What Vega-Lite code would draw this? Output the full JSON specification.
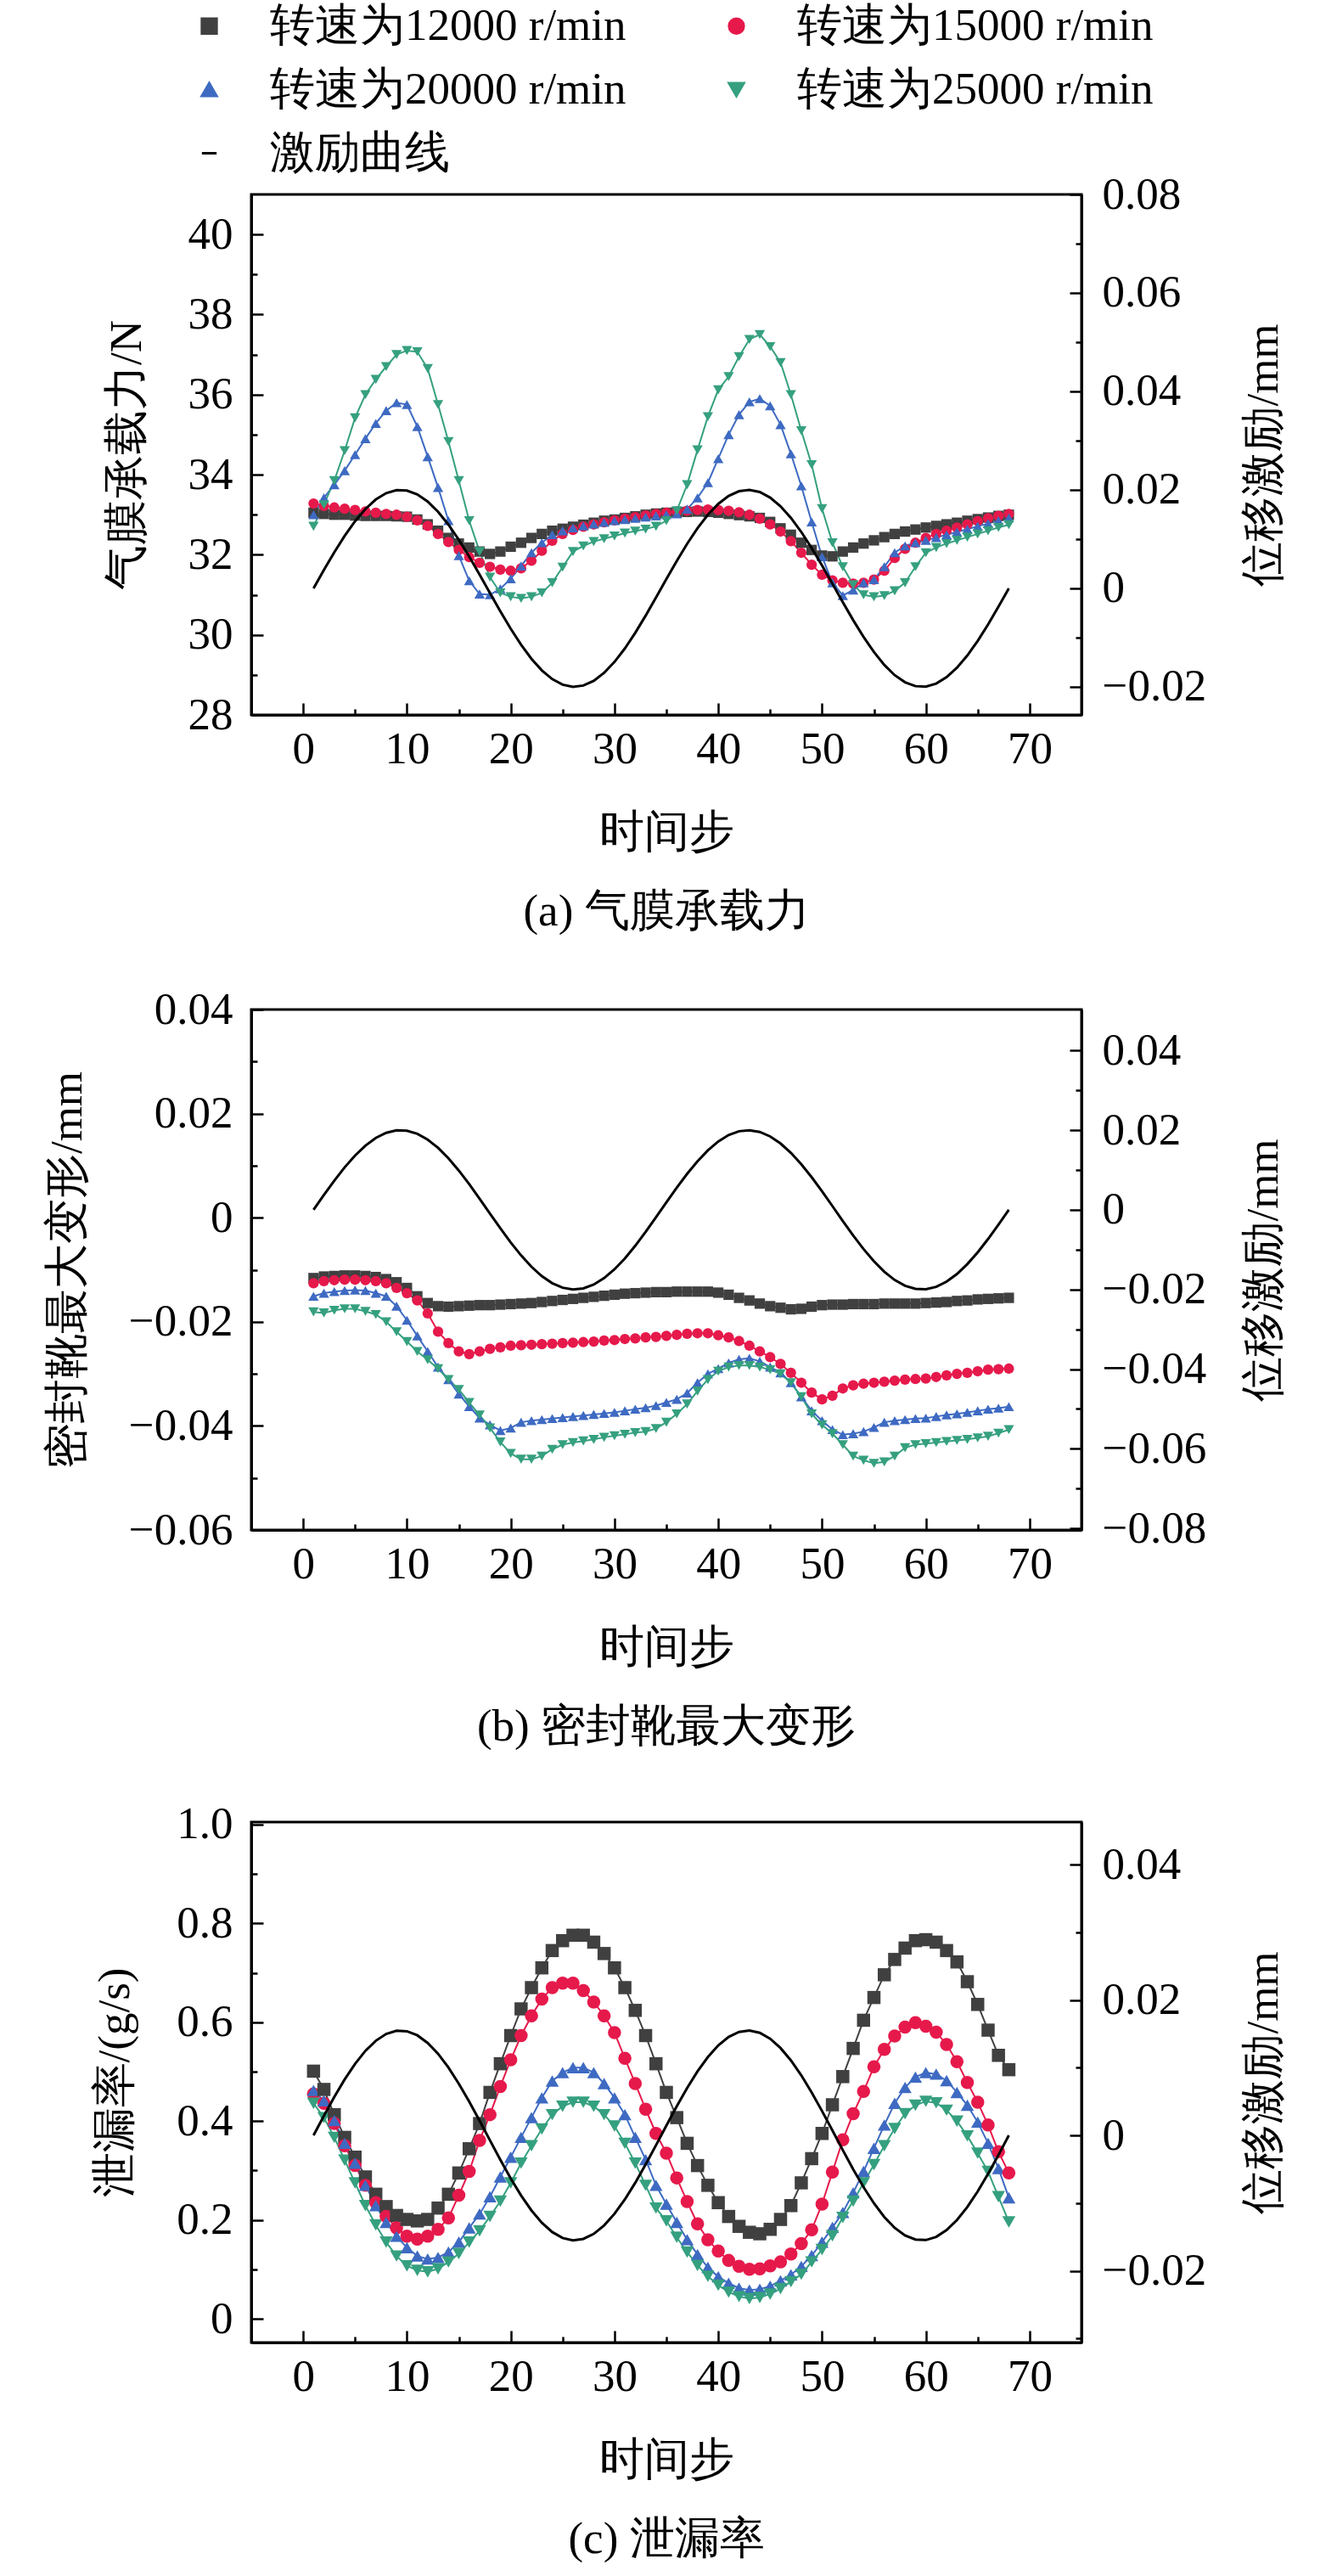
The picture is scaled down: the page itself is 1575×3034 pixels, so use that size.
{
  "$schema": "https://vega.github.io/schema/vega-lite/v6.json",
  "background": "white",
  "padding": {"left": 51, "top": 4, "right": 0, "bottom": 0},
  "spacing": 58,
  "config": {
    "font": "Liberation Serif",
    "view": {"stroke": "black", "strokeWidth": 3},
    "axis": {
      "labelFontSize": 53,
      "titleFontSize": 53,
      "titleFontWeight": "normal",
      "labelColor": "black",
      "titleColor": "black",
      "domainColor": "black",
      "domainWidth": 3,
      "tickColor": "black",
      "tickWidth": 2.5,
      "tickSize": -14,
      "grid": false,
      "labelFlush": false,
      "labelOverlap": false
    },
    "title": {"fontSize": 53, "fontWeight": "normal", "color": "black", "orient": "bottom", "offset": 41}
  },
  "datasets": {
    "p1": [
      {"t":1,"a":33.05,"b":33.28,"c":33.0,"d":32.71,"e":0},
      {"t":2,"a":33.02,"b":33.22,"c":33.42,"d":33.25,"e":0.00373},
      {"t":3,"a":33.0,"b":33.18,"c":33.75,"d":33.85,"e":0.00733},
      {"t":4,"a":33.0,"b":33.15,"c":34.1,"d":34.6,"e":0.01067},
      {"t":5,"a":32.98,"b":33.12,"c":34.5,"d":35.42,"e":0.01363},
      {"t":6,"a":32.97,"b":33.08,"c":34.9,"d":36.0,"e":0.01612},
      {"t":7,"a":32.97,"b":33.05,"c":35.28,"d":36.38,"e":0.01805},
      {"t":8,"a":32.97,"b":33.02,"c":35.6,"d":36.7,"e":0.01934},
      {"t":9,"a":32.96,"b":33.0,"c":35.8,"d":37.0,"e":0.01995},
      {"t":10,"a":32.95,"b":32.95,"c":35.75,"d":37.1,"e":0.01986},
      {"t":11,"a":32.88,"b":32.86,"c":35.2,"d":37.07,"e":0.01908},
      {"t":12,"a":32.76,"b":32.72,"c":34.45,"d":36.65,"e":0.01763},
      {"t":13,"a":32.6,"b":32.52,"c":33.68,"d":35.75,"e":0.01556},
      {"t":14,"a":32.42,"b":32.32,"c":32.85,"d":34.83,"e":0.01293},
      {"t":15,"a":32.28,"b":32.12,"c":31.98,"d":33.85,"e":0.00986},
      {"t":16,"a":32.18,"b":31.94,"c":31.35,"d":32.85,"e":0.00645},
      {"t":17,"a":32.08,"b":31.8,"c":31.02,"d":32.08,"e":0.0028},
      {"t":18,"a":32.02,"b":31.7,"c":31.0,"d":31.44,"e":-0.00094},
      {"t":19,"a":32.08,"b":31.63,"c":31.15,"d":31.05,"e":-0.00465},
      {"t":20,"a":32.2,"b":31.6,"c":31.4,"d":30.95,"e":-0.00819},
      {"t":21,"a":32.3,"b":31.66,"c":31.72,"d":30.91,"e":-0.01145},
      {"t":22,"a":32.42,"b":31.85,"c":32.05,"d":30.95,"e":-0.01431},
      {"t":23,"a":32.52,"b":32.1,"c":32.3,"d":31.05,"e":-0.01666},
      {"t":24,"a":32.6,"b":32.35,"c":32.5,"d":31.3,"e":-0.01843},
      {"t":25,"a":32.65,"b":32.52,"c":32.6,"d":31.69,"e":-0.01956},
      {"t":26,"a":32.7,"b":32.62,"c":32.67,"d":32.08,"e":-0.01999},
      {"t":27,"a":32.75,"b":32.7,"c":32.72,"d":32.22,"e":-0.01973},
      {"t":28,"a":32.8,"b":32.76,"c":32.77,"d":32.33,"e":-0.01878},
      {"t":29,"a":32.85,"b":32.81,"c":32.81,"d":32.4,"e":-0.01716},
      {"t":30,"a":32.88,"b":32.86,"c":32.85,"d":32.47,"e":-0.01494},
      {"t":31,"a":32.92,"b":32.9,"c":32.88,"d":32.54,"e":-0.01221},
      {"t":32,"a":32.96,"b":32.94,"c":32.91,"d":32.59,"e":-0.00904},
      {"t":33,"a":33.0,"b":32.98,"c":32.94,"d":32.64,"e":-0.00555},
      {"t":34,"a":33.03,"b":33.02,"c":32.97,"d":32.71,"e":-0.00187},
      {"t":35,"a":33.05,"b":33.05,"c":33.0,"d":32.85,"e":0.00187},
      {"t":36,"a":33.06,"b":33.08,"c":33.02,"d":33.1,"e":0.00555},
      {"t":37,"a":33.07,"b":33.1,"c":33.14,"d":33.75,"e":0.00904},
      {"t":38,"a":33.08,"b":33.12,"c":33.42,"d":34.62,"e":0.0122},
      {"t":39,"a":33.07,"b":33.13,"c":33.8,"d":35.45,"e":0.01494},
      {"t":40,"a":33.05,"b":33.12,"c":34.4,"d":36.12,"e":0.01716},
      {"t":41,"a":33.02,"b":33.1,"c":35.0,"d":36.45,"e":0.01878},
      {"t":42,"a":32.99,"b":33.06,"c":35.5,"d":36.95,"e":0.01973},
      {"t":43,"a":32.96,"b":33.0,"c":35.82,"d":37.38,"e":0.01999},
      {"t":44,"a":32.92,"b":32.9,"c":35.9,"d":37.5,"e":0.01956},
      {"t":45,"a":32.82,"b":32.76,"c":35.72,"d":37.2,"e":0.01843},
      {"t":46,"a":32.66,"b":32.58,"c":35.25,"d":36.8,"e":0.01666},
      {"t":47,"a":32.5,"b":32.34,"c":34.52,"d":36.0,"e":0.01431},
      {"t":48,"a":32.3,"b":32.05,"c":33.72,"d":35.1,"e":0.01145},
      {"t":49,"a":32.12,"b":31.75,"c":32.82,"d":34.25,"e":0.00819},
      {"t":50,"a":31.98,"b":31.5,"c":31.95,"d":33.15,"e":0.00465},
      {"t":51,"a":31.96,"b":31.36,"c":31.3,"d":32.3,"e":0.00094},
      {"t":52,"a":32.08,"b":31.3,"c":30.98,"d":31.7,"e":-0.0028},
      {"t":53,"a":32.18,"b":31.28,"c":31.12,"d":31.25,"e":-0.00645},
      {"t":54,"a":32.28,"b":31.3,"c":31.3,"d":31.0,"e":-0.00986},
      {"t":55,"a":32.36,"b":31.38,"c":31.38,"d":30.95,"e":-0.01293},
      {"t":56,"a":32.44,"b":31.6,"c":31.7,"d":30.98,"e":-0.01556},
      {"t":57,"a":32.52,"b":31.92,"c":32.05,"d":31.1,"e":-0.01763},
      {"t":58,"a":32.58,"b":32.15,"c":32.22,"d":31.3,"e":-0.01908},
      {"t":59,"a":32.63,"b":32.3,"c":32.3,"d":31.7,"e":-0.01986},
      {"t":60,"a":32.68,"b":32.42,"c":32.36,"d":32.05,"e":-0.01995},
      {"t":61,"a":32.72,"b":32.52,"c":32.43,"d":32.18,"e":-0.01934},
      {"t":62,"a":32.76,"b":32.6,"c":32.5,"d":32.28,"e":-0.01805},
      {"t":63,"a":32.8,"b":32.68,"c":32.57,"d":32.36,"e":-0.01612},
      {"t":64,"a":32.85,"b":32.76,"c":32.64,"d":32.44,"e":-0.01363},
      {"t":65,"a":32.89,"b":32.84,"c":32.71,"d":32.52,"e":-0.01067},
      {"t":66,"a":32.93,"b":32.91,"c":32.78,"d":32.6,"e":-0.00733},
      {"t":67,"a":32.97,"b":32.97,"c":32.85,"d":32.68,"e":-0.00373},
      {"t":68,"a":33.0,"b":33.02,"c":32.92,"d":32.75,"e":0}
    ],
    "p2": [
      {"t":1,"a":-0.0116,"b":-0.0126,"c":-0.0151,"d":-0.0181,"e":0},
      {"t":2,"a":-0.0113,"b":-0.0122,"c":-0.0145,"d":-0.0183,"e":0.00373},
      {"t":3,"a":-0.0112,"b":-0.012,"c":-0.0142,"d":-0.0178,"e":0.00733},
      {"t":4,"a":-0.0111,"b":-0.0119,"c":-0.014,"d":-0.0175,"e":0.01067},
      {"t":5,"a":-0.0111,"b":-0.0119,"c":-0.0139,"d":-0.0175,"e":0.01363},
      {"t":6,"a":-0.0112,"b":-0.012,"c":-0.014,"d":-0.018,"e":0.01612},
      {"t":7,"a":-0.0114,"b":-0.0122,"c":-0.0145,"d":-0.0186,"e":0.01805},
      {"t":8,"a":-0.0118,"b":-0.0126,"c":-0.0151,"d":-0.02,"e":0.01934},
      {"t":9,"a":-0.0124,"b":-0.0135,"c":-0.017,"d":-0.0219,"e":0.01995},
      {"t":10,"a":-0.0135,"b":-0.0145,"c":-0.0197,"d":-0.0238,"e":0.01986},
      {"t":11,"a":-0.0151,"b":-0.0159,"c":-0.0227,"d":-0.0257,"e":0.01908},
      {"t":12,"a":-0.0164,"b":-0.0184,"c":-0.0257,"d":-0.0273,"e":0.01763},
      {"t":13,"a":-0.017,"b":-0.0219,"c":-0.0287,"d":-0.029,"e":0.01556},
      {"t":14,"a":-0.0171,"b":-0.0241,"c":-0.0311,"d":-0.0311,"e":0.01293},
      {"t":15,"a":-0.017,"b":-0.0257,"c":-0.0339,"d":-0.033,"e":0.00986},
      {"t":16,"a":-0.0169,"b":-0.0262,"c":-0.0363,"d":-0.0355,"e":0.00645},
      {"t":17,"a":-0.0168,"b":-0.0257,"c":-0.0385,"d":-0.0379,"e":0.0028},
      {"t":18,"a":-0.0168,"b":-0.0252,"c":-0.0398,"d":-0.0404,"e":-0.00094},
      {"t":19,"a":-0.0167,"b":-0.0249,"c":-0.0409,"d":-0.0431,"e":-0.00465},
      {"t":20,"a":-0.0166,"b":-0.0246,"c":-0.0404,"d":-0.0453,"e":-0.00819},
      {"t":21,"a":-0.0165,"b":-0.0245,"c":-0.0393,"d":-0.0464,"e":-0.01145},
      {"t":22,"a":-0.0164,"b":-0.0244,"c":-0.039,"d":-0.0464,"e":-0.01431},
      {"t":23,"a":-0.0162,"b":-0.0243,"c":-0.0388,"d":-0.0458,"e":-0.01666},
      {"t":24,"a":-0.016,"b":-0.0242,"c":-0.0386,"d":-0.0445,"e":-0.01843},
      {"t":25,"a":-0.0158,"b":-0.0241,"c":-0.0384,"d":-0.0436,"e":-0.01956},
      {"t":26,"a":-0.0156,"b":-0.024,"c":-0.0382,"d":-0.0432,"e":-0.01999},
      {"t":27,"a":-0.0154,"b":-0.0239,"c":-0.038,"d":-0.0429,"e":-0.01973},
      {"t":28,"a":-0.0152,"b":-0.0238,"c":-0.0378,"d":-0.0426,"e":-0.01878},
      {"t":29,"a":-0.015,"b":-0.0236,"c":-0.0376,"d":-0.0422,"e":-0.01716},
      {"t":30,"a":-0.0148,"b":-0.0235,"c":-0.0374,"d":-0.0419,"e":-0.01494},
      {"t":31,"a":-0.0146,"b":-0.0233,"c":-0.0371,"d":-0.0416,"e":-0.01221},
      {"t":32,"a":-0.0145,"b":-0.0232,"c":-0.0368,"d":-0.0413,"e":-0.00904},
      {"t":33,"a":-0.0144,"b":-0.023,"c":-0.0365,"d":-0.0411,"e":-0.00555},
      {"t":34,"a":-0.0143,"b":-0.0229,"c":-0.0361,"d":-0.0405,"e":-0.00187},
      {"t":35,"a":-0.0143,"b":-0.0227,"c":-0.0355,"d":-0.0393,"e":0.00187},
      {"t":36,"a":-0.0142,"b":-0.0225,"c":-0.0349,"d":-0.0377,"e":0.00555},
      {"t":37,"a":-0.0142,"b":-0.0223,"c":-0.0337,"d":-0.0358,"e":0.00904},
      {"t":38,"a":-0.0142,"b":-0.0222,"c":-0.0317,"d":-0.0333,"e":0.0122},
      {"t":39,"a":-0.0142,"b":-0.0222,"c":-0.03,"d":-0.0311,"e":0.01494},
      {"t":40,"a":-0.0144,"b":-0.0226,"c":-0.029,"d":-0.0295,"e":0.01716},
      {"t":41,"a":-0.0148,"b":-0.023,"c":-0.0279,"d":-0.0287,"e":0.01878},
      {"t":42,"a":-0.0154,"b":-0.0237,"c":-0.0272,"d":-0.0284,"e":0.01973},
      {"t":43,"a":-0.0159,"b":-0.0246,"c":-0.027,"d":-0.0284,"e":0.01999},
      {"t":44,"a":-0.0165,"b":-0.0257,"c":-0.0276,"d":-0.0287,"e":0.01956},
      {"t":45,"a":-0.017,"b":-0.0268,"c":-0.0287,"d":-0.0292,"e":0.01843},
      {"t":46,"a":-0.0173,"b":-0.0281,"c":-0.0298,"d":-0.03,"e":0.01666},
      {"t":47,"a":-0.0176,"b":-0.0298,"c":-0.0317,"d":-0.0317,"e":0.01431},
      {"t":48,"a":-0.0175,"b":-0.0317,"c":-0.0344,"d":-0.0344,"e":0.01145},
      {"t":49,"a":-0.0171,"b":-0.0336,"c":-0.0371,"d":-0.0377,"e":0.00819},
      {"t":50,"a":-0.0168,"b":-0.0349,"c":-0.039,"d":-0.0398,"e":0.00465},
      {"t":51,"a":-0.0167,"b":-0.0342,"c":-0.0407,"d":-0.0415,"e":0.00094},
      {"t":52,"a":-0.0167,"b":-0.0328,"c":-0.0417,"d":-0.0436,"e":-0.0028},
      {"t":53,"a":-0.0166,"b":-0.0322,"c":-0.0415,"d":-0.0458,"e":-0.00645},
      {"t":54,"a":-0.0166,"b":-0.0319,"c":-0.0411,"d":-0.0466,"e":-0.00986},
      {"t":55,"a":-0.0166,"b":-0.0317,"c":-0.0403,"d":-0.0472,"e":-0.01293},
      {"t":56,"a":-0.0165,"b":-0.0315,"c":-0.0393,"d":-0.0469,"e":-0.01556},
      {"t":57,"a":-0.0165,"b":-0.0313,"c":-0.039,"d":-0.0458,"e":-0.01763},
      {"t":58,"a":-0.0165,"b":-0.0311,"c":-0.0388,"d":-0.0442,"e":-0.01908},
      {"t":59,"a":-0.0165,"b":-0.031,"c":-0.0386,"d":-0.0436,"e":-0.01986},
      {"t":60,"a":-0.0164,"b":-0.0309,"c":-0.0385,"d":-0.0434,"e":-0.01995},
      {"t":61,"a":-0.0163,"b":-0.0306,"c":-0.0382,"d":-0.0432,"e":-0.01934},
      {"t":62,"a":-0.0162,"b":-0.0303,"c":-0.0379,"d":-0.043,"e":-0.01805},
      {"t":63,"a":-0.016,"b":-0.03,"c":-0.0377,"d":-0.0428,"e":-0.01612},
      {"t":64,"a":-0.0159,"b":-0.0298,"c":-0.0374,"d":-0.0426,"e":-0.01363},
      {"t":65,"a":-0.0157,"b":-0.0295,"c":-0.0371,"d":-0.0423,"e":-0.01067},
      {"t":66,"a":-0.0156,"b":-0.0292,"c":-0.0368,"d":-0.042,"e":-0.00733},
      {"t":67,"a":-0.0155,"b":-0.0291,"c":-0.0366,"d":-0.0414,"e":-0.00373},
      {"t":68,"a":-0.0154,"b":-0.029,"c":-0.0363,"d":-0.0407,"e":0}
    ],
    "p3": [
      {"t":1,"a":0.501,"b":0.455,"c":0.462,"d":0.436,"e":0},
      {"t":2,"a":0.464,"b":0.436,"c":0.441,"d":0.407,"e":0.00289},
      {"t":3,"a":0.413,"b":0.395,"c":0.401,"d":0.367,"e":0.00568},
      {"t":4,"a":0.367,"b":0.35,"c":0.355,"d":0.321,"e":0.00827},
      {"t":5,"a":0.327,"b":0.31,"c":0.315,"d":0.275,"e":0.01057},
      {"t":6,"a":0.287,"b":0.27,"c":0.27,"d":0.229,"e":0.0125},
      {"t":7,"a":0.252,"b":0.235,"c":0.229,"d":0.19,"e":0.01399},
      {"t":8,"a":0.227,"b":0.207,"c":0.195,"d":0.155,"e":0.01499},
      {"t":9,"a":0.209,"b":0.184,"c":0.167,"d":0.127,"e":0.01546},
      {"t":10,"a":0.201,"b":0.167,"c":0.144,"d":0.107,"e":0.01539},
      {"t":11,"a":0.198,"b":0.161,"c":0.127,"d":0.098,"e":0.01479},
      {"t":12,"a":0.201,"b":0.167,"c":0.121,"d":0.095,"e":0.01366},
      {"t":13,"a":0.224,"b":0.181,"c":0.124,"d":0.101,"e":0.01206},
      {"t":14,"a":0.252,"b":0.204,"c":0.135,"d":0.115,"e":0.01002},
      {"t":15,"a":0.295,"b":0.25,"c":0.155,"d":0.132,"e":0.00764},
      {"t":16,"a":0.344,"b":0.298,"c":0.184,"d":0.155,"e":0.005},
      {"t":17,"a":0.395,"b":0.361,"c":0.212,"d":0.178,"e":0.00217},
      {"t":18,"a":0.458,"b":0.413,"c":0.247,"d":0.207,"e":-0.00073},
      {"t":19,"a":0.516,"b":0.47,"c":0.287,"d":0.238,"e":-0.0036},
      {"t":20,"a":0.573,"b":0.524,"c":0.327,"d":0.275,"e":-0.00635},
      {"t":21,"a":0.627,"b":0.573,"c":0.367,"d":0.315,"e":-0.00888},
      {"t":22,"a":0.67,"b":0.613,"c":0.407,"d":0.35,"e":-0.01109},
      {"t":23,"a":0.71,"b":0.647,"c":0.447,"d":0.384,"e":-0.01291},
      {"t":24,"a":0.745,"b":0.67,"c":0.481,"d":0.413,"e":-0.01428},
      {"t":25,"a":0.765,"b":0.679,"c":0.498,"d":0.43,"e":-0.01516},
      {"t":26,"a":0.776,"b":0.679,"c":0.508,"d":0.438,"e":-0.0155},
      {"t":27,"a":0.776,"b":0.664,"c":0.508,"d":0.438,"e":-0.01529},
      {"t":28,"a":0.762,"b":0.641,"c":0.498,"d":0.43,"e":-0.01455},
      {"t":29,"a":0.739,"b":0.613,"c":0.476,"d":0.413,"e":-0.0133},
      {"t":30,"a":0.71,"b":0.579,"c":0.447,"d":0.39,"e":-0.01158},
      {"t":31,"a":0.67,"b":0.527,"c":0.413,"d":0.355,"e":-0.00946},
      {"t":32,"a":0.624,"b":0.476,"c":0.367,"d":0.315,"e":-0.007},
      {"t":33,"a":0.573,"b":0.424,"c":0.322,"d":0.27,"e":-0.0043},
      {"t":34,"a":0.516,"b":0.375,"c":0.27,"d":0.224,"e":-0.00145},
      {"t":35,"a":0.458,"b":0.335,"c":0.232,"d":0.198,"e":0.00145},
      {"t":36,"a":0.407,"b":0.285,"c":0.195,"d":0.165,"e":0.0043},
      {"t":37,"a":0.355,"b":0.237,"c":0.16,"d":0.135,"e":0.007},
      {"t":38,"a":0.31,"b":0.192,"c":0.13,"d":0.108,"e":0.00946},
      {"t":39,"a":0.27,"b":0.16,"c":0.104,"d":0.086,"e":0.01158},
      {"t":40,"a":0.235,"b":0.137,"c":0.085,"d":0.068,"e":0.0133},
      {"t":41,"a":0.207,"b":0.118,"c":0.072,"d":0.054,"e":0.01455},
      {"t":42,"a":0.187,"b":0.106,"c":0.062,"d":0.045,"e":0.01529},
      {"t":43,"a":0.175,"b":0.1,"c":0.058,"d":0.041,"e":0.0155},
      {"t":44,"a":0.172,"b":0.101,"c":0.06,"d":0.043,"e":0.01516},
      {"t":45,"a":0.181,"b":0.107,"c":0.066,"d":0.05,"e":0.01428},
      {"t":46,"a":0.201,"b":0.115,"c":0.077,"d":0.061,"e":0.01291},
      {"t":47,"a":0.229,"b":0.131,"c":0.089,"d":0.075,"e":0.01109},
      {"t":48,"a":0.275,"b":0.152,"c":0.106,"d":0.09,"e":0.00888},
      {"t":49,"a":0.324,"b":0.18,"c":0.128,"d":0.115,"e":0.00635},
      {"t":50,"a":0.375,"b":0.232,"c":0.155,"d":0.14,"e":0.0036},
      {"t":51,"a":0.433,"b":0.297,"c":0.185,"d":0.168,"e":0.00073},
      {"t":52,"a":0.49,"b":0.362,"c":0.215,"d":0.205,"e":-0.00217},
      {"t":53,"a":0.547,"b":0.415,"c":0.255,"d":0.238,"e":-0.005},
      {"t":54,"a":0.604,"b":0.46,"c":0.298,"d":0.275,"e":-0.00764},
      {"t":55,"a":0.65,"b":0.51,"c":0.345,"d":0.312,"e":-0.01002},
      {"t":56,"a":0.696,"b":0.545,"c":0.392,"d":0.35,"e":-0.01206},
      {"t":57,"a":0.727,"b":0.572,"c":0.436,"d":0.385,"e":-0.01366},
      {"t":58,"a":0.75,"b":0.59,"c":0.468,"d":0.415,"e":-0.01479},
      {"t":59,"a":0.765,"b":0.599,"c":0.489,"d":0.432,"e":-0.01539},
      {"t":60,"a":0.767,"b":0.592,"c":0.498,"d":0.44,"e":-0.01546},
      {"t":61,"a":0.762,"b":0.58,"c":0.495,"d":0.437,"e":-0.01499},
      {"t":62,"a":0.745,"b":0.555,"c":0.482,"d":0.422,"e":-0.01399},
      {"t":63,"a":0.722,"b":0.52,"c":0.458,"d":0.4,"e":-0.0125},
      {"t":64,"a":0.682,"b":0.478,"c":0.432,"d":0.37,"e":-0.01057},
      {"t":65,"a":0.636,"b":0.438,"c":0.398,"d":0.335,"e":-0.00827},
      {"t":66,"a":0.584,"b":0.392,"c":0.355,"d":0.298,"e":-0.00568},
      {"t":67,"a":0.533,"b":0.338,"c":0.304,"d":0.247,"e":-0.00289},
      {"t":68,"a":0.504,"b":0.295,"c":0.245,"d":0.196,"e":0}
    ]
  },
  "vconcat": [
    {
      "width": 978,
      "height": 613,
      "title": "(a) 气膜承载力",
      "data": {"name": "p1"},
      "layer": [
        {
          "transform": [{"fold": ["a", "b", "c", "d"], "as": ["series", "v"]}],
          "encoding": {
            "x": {
              "field": "t", "type": "quantitative",
              "scale": {"domain": [-5, 75], "nice": false, "zero": false},
              "axis": {
                "title": "时间步", "values": [0, 5, 10, 15, 20, 25, 30, 35, 40, 45, 50, 55, 60, 65, 70],
                "labelExpr": "datum.value % 10 === 0 ? datum.label : ''",
                "tickSize": {"condition": {"test": "datum.value % 10 === 0", "value": -14}, "value": -7},
                "labelPadding": 28, "titlePadding": 38
              }
            },
            "y": {
              "field": "v", "type": "quantitative",
              "scale": {"domain": [28, 41], "nice": false, "zero": false},
              "axis": {
                "title": "气膜承载力/N", "values": [28, 29, 30, 31, 32, 33, 34, 35, 36, 37, 38, 39, 40], "format": "d",
                "labelExpr": "datum.value % 2 === 0 ? datum.label : ''",
                "tickSize": {"condition": {"test": "datum.value % 2 === 0", "value": -14}, "value": -7},
                "labelPadding": 36, "titlePadding": 45
              }
            },
            "color": {
              "field": "series", "type": "nominal",
              "scale": {
                "domain": ["a", "b", "c", "d", "e"],
                "range": ["#404040", "#e6194b", "#3e6ac2", "#35a07f", "#000000"]
              },
              "legend": {
                "title": null,
                "orient": "none",
                "direction": "horizontal",
                "legendX": -76,
                "legendY": -225,
                "columns": 2,
                "columnPadding": 103,
                "rowPadding": 21,
                "labelFontSize": 53,
                "labelColor": "black",
                "labelLimit": 1000,
                "labelOffset": 45,
                "symbolSize": 300,
                "symbolStrokeWidth": 3,
                "labelExpr": "datum.label === 'a' ? '转速为12000 r/min' : datum.label === 'b' ? '转速为15000 r/min' : datum.label === 'c' ? '转速为20000 r/min' : datum.label === 'd' ? '转速为25000 r/min' : '激励曲线'"
              }
            }
          },
          "layer": [
            {"mark": {"type": "line", "strokeWidth": 2}},
            {
              "mark": {"type": "point", "filled": true, "opacity": 1, "size": 150},
              "encoding": {
                "shape": {
                  "field": "series", "type": "nominal",
                  "scale": {"domain": ["a", "b", "c", "d", "e"], "range": ["square", "circle", "triangle-up", "triangle-down", "stroke"]},
                  "legend": {
                    "title": null,
                    "orient": "none",
                    "direction": "horizontal",
                    "legendX": -76,
                    "legendY": -225,
                    "columns": 2,
                    "columnPadding": 103,
                    "rowPadding": 21,
                    "labelFontSize": 53,
                    "labelColor": "black",
                    "labelLimit": 1000,
                    "labelOffset": 45,
                    "symbolSize": 300,
                    "symbolStrokeWidth": 3,
                    "labelExpr": "datum.label === 'a' ? '转速为12000 r/min' : datum.label === 'b' ? '转速为15000 r/min' : datum.label === 'c' ? '转速为20000 r/min' : datum.label === 'd' ? '转速为25000 r/min' : '激励曲线'"
                  }
                }
              }
            }
          ]
        },
        {
          "mark": {"type": "line", "strokeWidth": 3},
          "encoding": {
            "x": {"field": "t", "type": "quantitative", "scale": {"domain": [-5, 75], "nice": false, "zero": false}},
            "y": {
              "field": "e", "type": "quantitative",
              "scale": {"domain": [-0.0257, 0.08], "nice": false, "zero": false},
              "axis": {
                "orient": "right", "title": "位移激励/mm", "titleAngle": -90, "titleBaseline": "top",
                "values": [-0.02, -0.01, 0, 0.01, 0.02, 0.03, 0.04, 0.05, 0.06, 0.07, 0.08],
                "labelAlign": "left",
                "labelExpr": "abs(round(datum.value * 100)) % 2 === 0 ? (datum.value < 0 ? format(datum.value, '.2f') : (datum.value === 0 ? '\u20020' : '\u2002' + format(datum.value, '.2f'))) : ''",
                "tickSize": {"condition": {"test": "abs(round(datum.value * 100)) % 2 === 0", "value": -14}, "value": -7},
                "labelPadding": 38, "titlePadding": 42
              }
            },
            "color": {"datum": "e", "type": "nominal", "scale": {"domain": ["a", "b", "c", "d", "e"], "range": ["#404040", "#e6194b", "#3e6ac2", "#35a07f", "#000000"]}}
          }
        }
      ],
      "resolve": {"scale": {"y": "independent"}, "axis": {"y": "independent"}}
    },
    {
      "width": 978,
      "height": 613,
      "title": "(b) 密封靴最大变形",
      "data": {"name": "p2"},
      "layer": [
        {
          "transform": [{"fold": ["a", "b", "c", "d"], "as": ["series", "v"]}],
          "encoding": {
            "x": {
              "field": "t", "type": "quantitative",
              "scale": {"domain": [-5, 75], "nice": false, "zero": false},
              "axis": {
                "title": "时间步", "values": [0, 5, 10, 15, 20, 25, 30, 35, 40, 45, 50, 55, 60, 65, 70],
                "labelExpr": "datum.value % 10 === 0 ? datum.label : ''",
                "tickSize": {"condition": {"test": "datum.value % 10 === 0", "value": -14}, "value": -7},
                "labelPadding": 28, "titlePadding": 38
              }
            },
            "y": {
              "field": "v", "type": "quantitative",
              "scale": {"domain": [-0.06, 0.04], "nice": false, "zero": false},
              "axis": {
                "title": "密封靴最大变形/mm", "values": [-0.06, -0.05, -0.04, -0.03, -0.02, -0.01, 0, 0.01, 0.02, 0.03, 0.04],
                "labelExpr": "abs(round(datum.value * 100)) % 2 === 0 ? (datum.value === 0 ? '0' : format(datum.value, '.2f')) : ''",
                "tickSize": {"condition": {"test": "abs(round(datum.value * 100)) % 2 === 0", "value": -14}, "value": -7},
                "labelPadding": 36, "titlePadding": 45
              }
            },
            "color": {"field": "series", "type": "nominal", "scale": {"domain": ["a", "b", "c", "d", "e"], "range": ["#404040", "#e6194b", "#3e6ac2", "#35a07f", "#000000"]}}
          },
          "layer": [
            {"mark": {"type": "line", "strokeWidth": 2}},
            {
              "mark": {"type": "point", "filled": true, "opacity": 1, "size": 150},
              "encoding": {
                "shape": {
                  "field": "series", "type": "nominal",
                  "scale": {"domain": ["a", "b", "c", "d", "e"], "range": ["square", "circle", "triangle-up", "triangle-down", "stroke"]}
                }
              }
            }
          ]
        },
        {
          "mark": {"type": "line", "strokeWidth": 3},
          "encoding": {
            "x": {"field": "t", "type": "quantitative", "scale": {"domain": [-5, 75], "nice": false, "zero": false}},
            "y": {
              "field": "e", "type": "quantitative",
              "scale": {"domain": [-0.0804, 0.0503], "nice": false, "zero": false},
              "axis": {
                "orient": "right", "title": "位移激励/mm", "titleAngle": -90, "titleBaseline": "top",
                "values": [-0.08, -0.07, -0.06, -0.05, -0.04, -0.03, -0.02, -0.01, 0, 0.01, 0.02, 0.03, 0.04],
                "labelAlign": "left",
                "labelExpr": "abs(round(datum.value * 100)) % 2 === 0 ? (datum.value < 0 ? format(datum.value, '.2f') : (datum.value === 0 ? '\u20020' : '\u2002' + format(datum.value, '.2f'))) : ''",
                "tickSize": {"condition": {"test": "abs(round(datum.value * 100)) % 2 === 0", "value": -14}, "value": -7},
                "labelPadding": 38, "titlePadding": 42
              }
            },
            "color": {"datum": "e", "type": "nominal", "scale": {"domain": ["a", "b", "c", "d", "e"], "range": ["#404040", "#e6194b", "#3e6ac2", "#35a07f", "#000000"]}}
          }
        }
      ],
      "resolve": {"scale": {"y": "independent"}, "axis": {"y": "independent"}}
    },
    {
      "width": 978,
      "height": 613,
      "title": "(c) 泄漏率",
      "data": {"name": "p3"},
      "layer": [
        {
          "transform": [{"fold": ["a", "b", "c", "d"], "as": ["series", "v"]}],
          "encoding": {
            "x": {
              "field": "t", "type": "quantitative",
              "scale": {"domain": [-5, 75], "nice": false, "zero": false},
              "axis": {
                "title": "时间步", "values": [0, 5, 10, 15, 20, 25, 30, 35, 40, 45, 50, 55, 60, 65, 70],
                "labelExpr": "datum.value % 10 === 0 ? datum.label : ''",
                "tickSize": {"condition": {"test": "datum.value % 10 === 0", "value": -14}, "value": -7},
                "labelPadding": 28, "titlePadding": 38
              }
            },
            "y": {
              "field": "v", "type": "quantitative",
              "scale": {"domain": [-0.048, 1.005], "nice": false, "zero": false},
              "axis": {
                "title": "泄漏率/(g/s)", "values": [0, 0.1, 0.2, 0.3, 0.4, 0.5, 0.6, 0.7, 0.8, 0.9, 1.0],
                "labelExpr": "round(datum.value * 10) % 2 === 0 ? (datum.value === 0 ? '0' : format(datum.value, '.1f')) : ''",
                "tickSize": {"condition": {"test": "round(datum.value * 10) % 2 === 0", "value": -14}, "value": -7},
                "labelPadding": 36, "titlePadding": 45
              }
            },
            "color": {"field": "series", "type": "nominal", "scale": {"domain": ["a", "b", "c", "d", "e"], "range": ["#404040", "#e6194b", "#3e6ac2", "#35a07f", "#000000"]}}
          },
          "layer": [
            {"mark": {"type": "line", "strokeWidth": 2}},
            {
              "mark": {"type": "point", "filled": true, "opacity": 1, "size": 240},
              "encoding": {
                "shape": {
                  "field": "series", "type": "nominal",
                  "scale": {"domain": ["a", "b", "c", "d", "e"], "range": ["square", "circle", "triangle-up", "triangle-down", "stroke"]}
                }
              }
            }
          ]
        },
        {
          "mark": {"type": "line", "strokeWidth": 3},
          "encoding": {
            "x": {"field": "t", "type": "quantitative", "scale": {"domain": [-5, 75], "nice": false, "zero": false}},
            "y": {
              "field": "e", "type": "quantitative",
              "scale": {"domain": [-0.0306, 0.0463], "nice": false, "zero": false},
              "axis": {
                "orient": "right", "title": "位移激励/mm", "titleAngle": -90, "titleBaseline": "top",
                "values": [-0.03, -0.02, -0.01, 0, 0.01, 0.02, 0.03, 0.04],
                "labelAlign": "left",
                "labelExpr": "abs(round(datum.value * 100)) % 2 === 0 ? (datum.value < 0 ? format(datum.value, '.2f') : (datum.value === 0 ? '\u20020' : '\u2002' + format(datum.value, '.2f'))) : ''",
                "tickSize": {"condition": {"test": "abs(round(datum.value * 100)) % 2 === 0", "value": -14}, "value": -7},
                "labelPadding": 38, "titlePadding": 42
              }
            },
            "color": {"datum": "e", "type": "nominal", "scale": {"domain": ["a", "b", "c", "d", "e"], "range": ["#404040", "#e6194b", "#3e6ac2", "#35a07f", "#000000"]}}
          }
        }
      ],
      "resolve": {"scale": {"y": "independent"}, "axis": {"y": "independent"}}
    }
  ]
}
